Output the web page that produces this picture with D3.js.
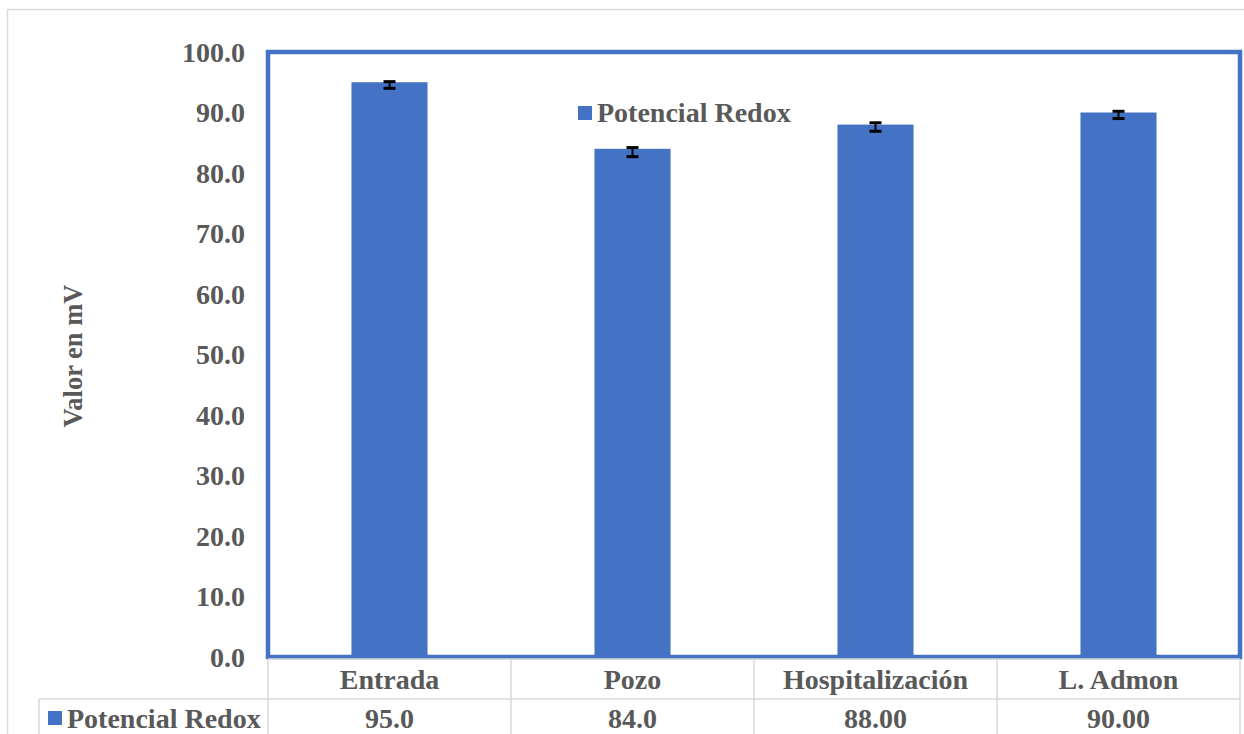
<!DOCTYPE html>
<meta charset="utf-8">
<script src="https://d3js.org/d3.v7.min.js"></script>
<style>
  body { margin: 0; background: #fff; }
  text { font-family: "Liberation Serif", "Times New Roman", serif; font-weight: bold; fill: #595959; }
</style>
<div id="my_dataviz"></div>
<script>

// data
var categories = ["Entrada", "Pozo", "Hospitalización", "L. Admon"];
var values = [95.0, 84.0, 88.0, 90.0];
var valueLabels = ["95.0", "84.0", "88.00", "90.00"];
var errLow = [94.0, 82.7, 86.9, 89.0];
var errHigh = [95.1, 84.2, 88.3, 90.2];
var yTicks = [0, 10, 20, 30, 40, 50, 60, 70, 80, 90, 100];
var seriesName = "Potencial Redox";

var data = categories.map(function(c, i) {
  return {cat: c, value: values[i], label: valueLabels[i], lo: errLow[i], hi: errHigh[i]};
});

var W = 1244, H = 734;
var plot = {left: 268, right: 1240, top: 52, bottom: 657};
var blue = "#4472C4", grid = "#d9d9d9";

var svg = d3.select("#my_dataviz")
  .append("svg")
    .attr("width", W)
    .attr("height", H);

// outer chart border
svg.append("rect")
  .attr("x", 7.5).attr("y", 9.5)
  .attr("width", W + 20).attr("height", H + 20)
  .attr("fill", "none").attr("stroke", grid).attr("stroke-width", 1.5);

var x = d3.scaleBand()
  .domain(categories)
  .range([plot.left, plot.right])
  .padding(0);

var y = d3.scaleLinear()
  .domain([0, 100])
  .range([plot.bottom, plot.top]);

// y tick labels
svg.append("g")
  .selectAll("text")
  .data(yTicks)
  .enter()
  .append("text")
    .attr("x", 245)
    .attr("y", function(d) { return y(d); })
    .attr("dy", "0.35em")
    .attr("text-anchor", "end")
    .style("font-size", "28px")
    .text(function(d) { return d3.format(".1f")(d); });

// y title
svg.append("text")
  .attr("transform", "translate(82,356) rotate(-90)")
  .attr("text-anchor", "middle")
  .style("font-size", "26.5px")
  .text("Valor en mV");

// bars
var barW = x.bandwidth() * 0.313;
svg.append("g")
  .selectAll("rect")
  .data(data)
  .enter()
  .append("rect")
    .attr("x", function(d) { return x(d.cat) + (x.bandwidth() - barW) / 2; })
    .attr("y", function(d) { return y(d.value); })
    .attr("width", barW)
    .attr("height", function(d) { return y(0) - y(d.value); })
    .attr("fill", blue);

// error bars
var eb = svg.append("g").attr("stroke", "#000");
data.forEach(function(d) {
  var cx = x(d.cat) + x.bandwidth() / 2;
  eb.append("line")
    .attr("x1", cx).attr("x2", cx)
    .attr("y1", y(d.lo)).attr("y2", y(d.hi))
    .attr("stroke-width", 2);
  [d.lo, d.hi].forEach(function(v) {
    eb.append("line")
      .attr("x1", cx - 6).attr("x2", cx + 6)
      .attr("y1", y(v)).attr("y2", y(v))
      .attr("stroke-width", 3);
  });
});

// plot area border
svg.append("rect")
  .attr("x", plot.left).attr("y", plot.top)
  .attr("width", plot.right - plot.left)
  .attr("height", plot.bottom - plot.top)
  .attr("fill", "none").attr("stroke", blue).attr("stroke-width", 4.5);

// legend inside plot
var leg = svg.append("g").attr("transform", "translate(578,113)");
leg.append("rect")
  .attr("x", 0).attr("y", -7).attr("width", 14).attr("height", 14)
  .attr("fill", blue);
leg.append("text")
  .attr("x", 19).attr("y", 0).attr("dy", "0.33em")
  .style("font-size", "28px")
  .text(seriesName);

// data table
var rowTop = 659, rowMid = 699, rowBot = H + 10;
var tbl = svg.append("g").attr("stroke", grid).attr("stroke-width", 1.5);
tbl.append("line").attr("x1", plot.left).attr("x2", plot.right).attr("y1", rowTop).attr("y2", rowTop);
tbl.append("line").attr("x1", 39).attr("x2", plot.right).attr("y1", rowMid).attr("y2", rowMid);
tbl.append("line").attr("x1", 39).attr("x2", 39).attr("y1", rowMid).attr("y2", rowBot);
var edges = categories.map(function(c) { return x(c); }).concat([plot.right]);
tbl.selectAll("line.v")
  .data(edges)
  .enter()
  .append("line")
    .attr("class", "v")
    .attr("x1", function(d) { return d; }).attr("x2", function(d) { return d; })
    .attr("y1", rowTop).attr("y2", rowBot);

svg.append("g")
  .selectAll("text")
  .data(data)
  .enter()
  .append("text")
    .attr("x", function(d) { return x(d.cat) + x.bandwidth() / 2; })
    .attr("y", (rowTop + rowMid) / 2)
    .attr("dy", "0.35em")
    .attr("text-anchor", "middle")
    .style("font-size", "28px")
    .text(function(d) { return d.cat; });

svg.append("g")
  .selectAll("text")
  .data(data)
  .enter()
  .append("text")
    .attr("x", function(d) { return x(d.cat) + x.bandwidth() / 2; })
    .attr("y", 718)
    .attr("dy", "0.35em")
    .attr("text-anchor", "middle")
    .style("font-size", "28px")
    .text(function(d) { return d.label; });

// table legend key
svg.append("rect")
  .attr("x", 48).attr("y", 711).attr("width", 14).attr("height", 14)
  .attr("fill", blue);
svg.append("text")
  .attr("x", 67).attr("y", 718).attr("dy", "0.35em")
  .style("font-size", "28px")
  .text(seriesName);

</script>
